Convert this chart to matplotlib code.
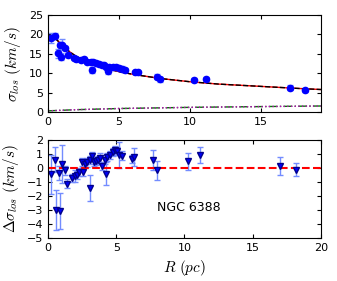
import matplotlib
matplotlib.use("Agg")
import matplotlib.pyplot as plt

plt.rcParams['mathtext.fontset'] = 'cm'
plt.rcParams['xtick.direction'] = 'in'
plt.rcParams['ytick.direction'] = 'in'
plt.rcParams['xtick.top'] = True
plt.rcParams['ytick.right'] = True

# observed dispersion profile
R_obs = [0.23, 0.51, 0.7, 0.82, 0.89, 1.0, 1.21, 1.4, 1.8, 2.0, 2.29, 2.5, 2.73, 3.0,
         3.08, 3.2, 3.4, 3.6, 3.8, 3.97, 4.09, 4.2, 4.32, 4.56, 4.79, 5.02, 5.2, 5.4,
         6.12, 6.36, 7.7, 7.9, 10.28, 11.1, 17.0, 18.1]
sig_obs = [19.1, 19.6, 15.1, 17.4, 14.2, 17.4, 16.4, 14.6, 14.0, 13.7, 13.4, 13.7, 13.0, 12.9,
           10.9, 12.9, 12.7, 12.3, 12.2, 12.0, 11.5, 10.6, 11.6, 11.6, 11.6, 11.4, 11.2, 10.8,
           10.2, 10.2, 9.1, 8.4, 8.2, 8.4, 6.3, 5.6]
sig_err = [1.2, 0.8, 1.2, 0.6, 0.9, 1.3, 0.5, 0.4, 0.4, 0.4, 0.4, 0.4, 0.5, 0.4,
           0.8, 0.5, 0.4, 0.4, 0.4, 0.4, 0.5, 0.7, 0.4, 0.4, 0.4, 0.5, 0.6, 0.5,
           0.4, 0.4, 0.6, 0.6, 0.5, 0.5, 0.6, 0.4]

# model curves
R_mod = [0, 0.5, 1, 1.5, 2, 2.5, 3, 4, 5, 6, 8, 10, 12, 14, 16, 18, 19.2]
sig_mod = [19.8, 19.0, 17.3, 15.6, 14.3, 13.4, 12.6, 11.3, 10.4, 9.7, 8.6, 7.8, 7.2, 6.8, 6.4, 6.0, 5.8]
R_low = [0, 2, 5, 10, 15, 19.2]
sig_low = [0.3, 0.6, 0.9, 1.2, 1.4, 1.55]

# residuals
R_res = [0.2, 0.49, 0.61, 0.8, 0.86, 1.0, 1.22, 1.4, 1.79, 1.96, 2.13, 2.28, 2.47, 2.57,
         2.74, 2.86, 3.06, 3.06, 3.2, 3.35, 3.5, 3.65, 3.8, 3.99, 4.16, 4.23, 4.33, 4.58,
         4.75, 4.9, 5.07, 5.21, 5.39, 6.17, 6.29, 7.71, 7.96, 10.28, 11.14, 17.0, 18.14]
d_sig = [-0.45, 0.6, -3.0, -0.36, -3.07, 0.26, -0.17, -1.12, -0.7, -0.57, -0.5, -0.3, 0.43, -0.26,
         0.3, 0.4, -1.43, 0.55, 0.83, 0.43, 0.5, 0.55, 0.74, 0.12, 0.6, -0.4, 0.79, 0.93,
         1.12, 1.26, 1.21, 0.93, 0.88, 0.64, 0.79, 0.55, -0.17, 0.48, 0.93, 0.12, -0.12]
d_err = [1.4, 0.9, 1.4, 0.5, 1.3, 1.35, 0.3, 0.3, 0.3, 0.4, 0.3, 0.3, 0.3, 0.3,
         0.3, 0.3, 0.9, 0.3, 0.3, 0.3, 0.3, 0.3, 0.3, 0.3, 0.3, 0.8, 0.3, 0.3,
         0.3, 0.3, 0.3, 0.9, 0.3, 0.3, 0.65, 0.7, 0.7, 0.6, 0.6, 0.65, 0.45]

fig = plt.figure(figsize=(3.37, 2.81), dpi=100)
ax1 = fig.add_axes([0.1424, 0.6014, 0.81, 0.345])
ax2 = fig.add_axes([0.1424, 0.153, 0.81, 0.349])

ax1.errorbar(R_obs, sig_obs, yerr=sig_err, fmt='o', color='b', ms=4.5,
             ecolor=(0.45, 0.55, 1.0), elinewidth=1, capsize=2)
ax1.plot(R_mod, sig_mod, 'r-', lw=1)
ax1.plot(R_mod, sig_mod, 'k--', lw=1)
ax1.plot(R_low, sig_low, 'g-.', lw=1)
ax1.plot(R_low, sig_low, 'm:', lw=1)
ax1.set_xlim(0, 19.2)
ax1.set_ylim(0, 25)
ax1.set_xticks([0, 5, 10, 15])
ax1.set_yticks([0, 5, 10, 15, 20, 25])
ax1.set_ylabel(r'$\sigma_{los}\ (km/s)$', fontsize=11)

ax2.errorbar(R_res, d_sig, yerr=d_err, fmt='v', color='b', mec='darkblue', ms=4.5,
             ecolor=(0.45, 0.55, 1.0), elinewidth=1, capsize=2)
ax2.axhline(0, color='r', ls='--', lw=1.5)
ax2.set_xlim(0, 20)
ax2.set_ylim(-5, 2)
ax2.set_xticks([0, 5, 10, 15, 20])
ax2.set_yticks([-5, -4, -3, -2, -1, 0, 1, 2])
ax2.text(8.0, -2.8, 'NGC 6388', fontsize=9, va='center')
ax2.set_ylabel(r'$\Delta\sigma_{los}\ (km/s)$', fontsize=11)
ax2.set_xlabel(r'$R\ (pc)$', fontsize=11)

for ax in (ax1, ax2):
    ax.tick_params(labelsize=8, length=3)

fig.savefig('out.png', dpi=100)
